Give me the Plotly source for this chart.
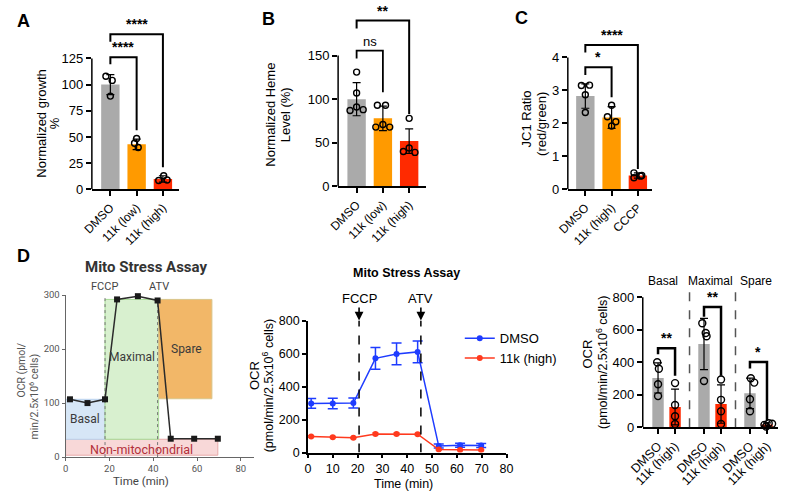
import plotly.graph_objects as go

W, H = 787, 500
FONT = "Liberation Sans, Arial, sans-serif"
SFONT = "Roboto, Liberation Sans, sans-serif"


def X(p):
    return p / W


def Y(p):
    return 1 - p / H


# ---------------- data ----------------
A_CATS = ["DMSO", "11k (low)", "11k (high)"]
A_MEAN = [100, 43, 10]
A_SD = [9.5, 5, 3]
A_PTS = [[108, 104, 89], [48.5, 44, 40], [8.5, 13, 9]]

B_CATS = ["DMSO", "11k (low)", "11k (high)"]
B_MEAN = [100, 78, 52]
B_SD = [19, 14, 14]
B_PTS = [[131, 107, 87, 91, 88], [93, 93, 68, 71, 68], [78, 40, 44, 39]]

C_CATS = ["DMSO", "11k (high)", "CCCP"]
C_MEAN = [2.83, 2.18, 0.42]
C_SD = [0.37, 0.33, 0.08]
C_PTS = [[3.15, 3.16, 2.87, 2.33], [2.55, 2.2, 2.05, 1.92], [0.5, 0.35, 0.42, 0.4]]

SCH_TIME = [2, 10, 18, 23.5, 33, 42, 48, 58.7, 69.5]
SCH_OCR = [107, 100, 107, 292, 298, 290, 34, 34, 34]
SCH_TICKS_X = [0, 20, 40, 60, 80]
SCH_TICKS_Y = [0, 100, 200, 300]

MS_TIME = [1.3, 10, 18.3, 27.2, 35.7, 44.2, 52.7, 61.3, 69.8]
MS_DMSO = [298, 297, 300, 571, 598, 610, 39, 44, 42]
MS_DMSO_ERR = [30, 32, 30, 66, 66, 66, 12, 12, 12]
MS_11K = [97, 93, 89, 113, 113, 111, 18, 16, 15]
MS_11K_ERR = [6, 5, 5, 6, 6, 6, 3, 3, 3]
MS_FCCP, MS_ATV = 20.6, 45.5

OCR_GROUPS = ["Basal", "Maximal", "Spare"]
OCR_CONDS = ["DMSO", "11k (high)"]
OCR_DMSO_MEAN = [304, 513, 209]
OCR_DMSO_SD = [93, 158, 94]
OCR_11K_MEAN = [125, 143, 17]
OCR_11K_SD = [110, 118, 10]
OCR_DMSO_PTS = [[400, 360, 265, 192], [640, 580, 560, 285], [302, 275, 173, 99]]
OCR_11K_PTS = [[272, 137, 68, 20], [294, 169, 99, 20], [25, 22, 15, 5]]

# ---------------- styling ----------------
GRAY, ORANGE, RED = "#AAAAAA", "#FF9A00", "#FF2A00"
C_BLUE, C_RED = "#1E3CFF", "#FF3A1E"

fig = go.Figure()


def bar_set(ax, xs, means, sds, colors, pts, offs, width, msize, name):
    fig.add_trace(go.Bar(
        x=xs, y=means, width=width, marker=dict(color=colors, line=dict(width=0)),
        error_y=dict(type="data", array=sds, color="black", thickness=1.2, width=4),
        xaxis="x" + ax, yaxis="y" + ax, showlegend=False, hoverinfo="skip", name=name))
    for xi, p, o in zip(xs, pts, offs):
        fig.add_trace(go.Scatter(
            x=[xi + oo for oo in o], y=p, mode="markers",
            marker=dict(symbol="circle-open", size=msize, color="black", line=dict(width=1.4)),
            xaxis="x" + ax, yaxis="y" + ax, showlegend=False, cliponaxis=False, hoverinfo="skip"))


def bracket(ax, x0, x1, ytop, yl, yr, label, lw=2, fs=14, bold=True, shift=0):
    fig.add_shape(type="path", path=f"M {x0},{yl} L {x0},{ytop} L {x1},{ytop} L {x1},{yr}",
                  xref="x" + ax, yref="y" + ax, line=dict(color="black", width=lw))
    txt = f"<b>{label}</b>" if bold else label
    fig.add_annotation(x=(x0 + x1) / 2, y=ytop, xref="x" + ax, yref="y" + ax, text=txt,
                       showarrow=False, yanchor="bottom", yshift=shift,
                       font=dict(size=fs, color="black", family=FONT))


def yline(ax, top, color="black", w=1.5):
    fig.add_shape(type="line", xref=f"x{ax} domain", x0=0, x1=0, yref="y" + ax, y0=0, y1=top,
                  line=dict(color=color, width=w))


def text(px, py, s, size=12, color="black", bold=False, angle=0, family=FONT):
    fig.add_annotation(x=X(px), y=Y(py), xref="paper", yref="paper",
                       text=f"<b>{s}</b>" if bold else s, showarrow=False, textangle=angle,
                       xanchor="center", yanchor="middle",
                       font=dict(size=size, color=color, family=family))


def xcat(d0, d1, rng, tv, tt, anchor, fs=12):
    return dict(domain=[X(d0), X(d1)], range=rng, tickmode="array", tickvals=tv, ticktext=tt,
                tickangle=-45, ticks="outside", ticklen=5, tickwidth=1.5, tickcolor="black",
                showline=True, linewidth=1.5, linecolor="black", showgrid=False, zeroline=False,
                tickfont=dict(size=fs, color="black", family=FONT), anchor=anchor, fixedrange=True)


def yval(pz, ptop, k, tv, anchor, fs=13, showline=False):
    return dict(domain=[Y(pz), Y(ptop)], range=[0, (pz - ptop) / k], tickmode="array", tickvals=tv,
                ticks="outside", ticklen=5, tickwidth=1.5, tickcolor="black",
                showline=showline, linewidth=1.5, linecolor="black", showgrid=False, zeroline=False,
                tickfont=dict(size=fs, color="black", family=FONT), anchor=anchor, fixedrange=True)


# ---------------- Panel A ----------------
xa = list(range(len(A_CATS)))
bar_set("", xa, A_MEAN, A_SD, [GRAY, ORANGE, RED], A_PTS,
        [[-0.17, 0.07, 0], [0, -0.08, 0.06], [-0.16, 0.03, 0.16]], 0.7, 6, "A")
yline("", 125)
bracket("", 0, 2, 148, 141, 21, "****")
bracket("", 0, 1, 126, 119.5, 56.5, "****")

# ---------------- Panel B ----------------
xb = list(range(len(B_CATS)))
bar_set("2", xb, B_MEAN, B_SD, [GRAY, ORANGE, RED], B_PTS,
        [[0, 0, -0.25, 0, 0.25], [-0.21, 0.1, -0.27, 0, 0.26], [0, -0.22, 0, 0.22]], 0.7, 6, "B")
yline("2", 150)
bracket("2", 0, 1, 155.6, 146.7, 107.8, "ns", lw=1.8, fs=13, bold=False)
bracket("2", 0, 2, 190, 181, 83, "**")

# ---------------- Panel C ----------------
xc = list(range(len(C_CATS)))
bar_set("3", xc, C_MEAN, C_SD, [GRAY, ORANGE, RED], C_PTS,
        [[-0.15, 0.16, 0, 0], [0, -0.16, 0.16, 0], [-0.15, -0.15, 0.15, 0.1]], 0.7, 6, "C")
yline("3", 4)
bracket("3", 0, 1, 3.706, 3.47, 2.79, "*")
bracket("3", 0, 2, 4.38, 4.15, 0.62, "****")

# ---------------- Panel D schematic ----------------
rects = [
    (0, 69.5, 3.5, 33, "#F8D8D8", "#E7A9A9"),
    (0, 18, 33, 107, "#D6E6F6", "#B9D3EE"),
    (18, 42.5, 33, 292, "#D8F0CF", "#A7DB95"),
    (42.5, 66.8, 108, 292, "#F2B768", "#D9C58A"),
]
for x0, x1, y0, y1, fc, lc in rects:
    fig.add_shape(type="rect", xref="x4", yref="y4", x0=x0, x1=x1, y0=y0, y1=y1,
                  fillcolor=fc, line=dict(color=lc, width=1), layer="below")
for xv in (18, 42):
    fig.add_shape(type="line", xref="x4", yref="y4", x0=xv, x1=xv, y0=0, y1=300,
                  line=dict(color="#777777", width=1, dash="dot"), layer="below")
fig.add_trace(go.Scatter(x=SCH_TIME, y=SCH_OCR, mode="lines+markers", xaxis="x4", yaxis="y4",
                         line=dict(color="#2B2B2B", width=1.5),
                         marker=dict(symbol="square", size=6, color="#1A1A1A"),
                         showlegend=False, hoverinfo="skip", cliponaxis=False))

# ---------------- Panel D middle ----------------
fig.add_trace(go.Scatter(x=MS_TIME, y=MS_DMSO, name="DMSO", mode="lines+markers",
                         xaxis="x5", yaxis="y5", line=dict(color=C_BLUE, width=1.5),
                         marker=dict(size=6, color=C_BLUE),
                         error_y=dict(type="data", array=MS_DMSO_ERR, color=C_BLUE, thickness=1.5, width=5),
                         hoverinfo="skip"))
fig.add_trace(go.Scatter(x=MS_TIME, y=MS_11K, name="11k (high)", mode="lines+markers",
                         xaxis="x5", yaxis="y5", line=dict(color=C_RED, width=1.5),
                         marker=dict(size=6, color=C_RED),
                         error_y=dict(type="data", array=MS_11K_ERR, color=C_RED, thickness=1.2, width=3),
                         hoverinfo="skip"))
for xv, lab in ((MS_FCCP, "FCCP"), (MS_ATV, "ATV")):
    fig.add_shape(type="line", xref="x5", yref="y5", x0=xv, x1=xv, y0=0, y1=800,
                  line=dict(color="black", width=1.5, dash="dash"))
    fig.add_annotation(x=xv, y=800, xref="x5", yref="y5", text=lab, showarrow=True,
                       ax=0, ay=-22, arrowhead=2, arrowsize=1.1, arrowwidth=1.6, arrowcolor="black",
                       font=dict(size=13, color="black", family=FONT))

# ---------------- Panel D right ----------------
ocr_x_dmso = [g * 2.7 for g in range(len(OCR_GROUPS))]
ocr_x_11k = [g * 2.7 + 1 for g in range(len(OCR_GROUPS))]
bar_set("6", ocr_x_dmso, OCR_DMSO_MEAN, OCR_DMSO_SD, GRAY, OCR_DMSO_PTS,
        [[-0.05, 0.05, 0, 0], [-0.1, 0.1, 0.15, 0], [0.05, 0.25, 0, 0]], 0.67, 7, "DMSO")
bar_set("6", ocr_x_11k, OCR_11K_MEAN, OCR_11K_SD, RED, OCR_11K_PTS,
        [[0, 0, 0, 0], [0, 0, 0, 0], [0.1, 0.3, -0.15, -0.05]], 0.67, 7, "11k")
yline("6", 800)
for g in range(1, len(OCR_GROUPS)):
    xv = (ocr_x_11k[g - 1] + ocr_x_dmso[g]) / 2
    fig.add_shape(type="line", xref="x6", yref="y6", x0=xv, x1=xv, y0=0, y1=856,
                  line=dict(color="#555555", width=1.5, dash="dash"))
bracket("6", ocr_x_dmso[0], ocr_x_11k[0], 487, 450, 318, "**", lw=2.5)
bracket("6", ocr_x_dmso[1], ocr_x_11k[1], 740, 680, 318, "**", lw=2.5)
bracket("6", ocr_x_dmso[2], ocr_x_11k[2], 402, 362, 40, "*", lw=2.5)
ocr_tickvals = sorted(ocr_x_dmso + ocr_x_11k)
ocr_ticktext = OCR_CONDS * len(OCR_GROUPS)

# ---------------- texts ----------------
text(10, 14, "A", 18, bold=True)
text(261, 12, "B", 18, bold=True)
text(521, 11, "C", 18, bold=True)
text(10, 257, "D", 18, bold=True)
text(28, 120, "Normalized growth", 13, angle=-90)
text(42, 120, "%", 13, angle=-90)
text(264, 111, "Normalized Heme", 13, angle=-90)
text(279, 111, "Level (%)", 13, angle=-90)
text(527, 115, "JC1 Ratio", 13, angle=-90)
text(542, 121, "(red/green)", 13, angle=-90)

text(136, 268, "Mito Stress Assay", 15, color="#333333", bold=True, family=SFONT)
text(93, 288, "FCCP", 11, color="#444444", family=SFONT)
text(149, 288, "ATV", 11, color="#444444", family=SFONT)
text(73, 425, "Basal", 12, color="#3A3A3A", family=SFONT)
text(121, 361, "Maximal", 12, color="#3A3A3A", family=SFONT)
text(177, 353, "Spare", 12, color="#3A3A3A", family=SFONT)
text(131, 456, "Non-mitochondrial", 12.5, color="#B3303A", family=SFONT)
text(8, 374, "OCR (pmol/", 10.5, color="#555555", angle=-90, family=SFONT)
text(20, 402, "min/2.5x10<sup>6</sup> cells)", 10.5, color="#555555", angle=-90, family=SFONT)
text(130, 489, "Time (min)", 11.5, color="#444444", family=SFONT)

text(403, 274, "Mito Stress Assay", 12.5, bold=True)
text(247, 380, "OCR", 13, angle=-90)
text(261, 391, "(pmol/min/2.5x10<sup>6</sup> cells)", 12.5, angle=-90)
text(400, 492, "Time (min)", 12.5)

text(667, 282, "Basal", 12)
text(716, 282, "Maximal", 12)
text(762, 282, "Spare", 12)
text(589, 358, "OCR", 13, angle=-90)
text(604, 366, "(pmol/min/2.5x10<sup>6</sup> cells)", 12.5, angle=-90)

# ---------------- layout ----------------
sch_ax = dict(showline=True, linewidth=1, linecolor="#666666", ticks="outside", ticklen=3,
              tickcolor="#666666", showgrid=False, zeroline=False, fixedrange=True,
              tickfont=dict(size=9.5, color="#555555", family=SFONT))
mid_common = dict(showline=True, linewidth=1.5, linecolor="black", ticks="outside", ticklen=4,
                  tickwidth=1.5, tickcolor="black", showgrid=False, zeroline=False, fixedrange=True,
                  tickfont=dict(size=12.5, color="black", family=FONT))

fig.update_layout(
    width=W, height=H, margin=dict(l=0, r=0, t=0, b=0),
    paper_bgcolor="white", plot_bgcolor="white", barmode="overlay",
    font=dict(family=FONT, color="black"),
    xaxis=xcat(80, 170, [-0.704, 2.63], xa, A_CATS, "y"),
    yaxis=yval(188, 10, 1.08, [0, 25, 50, 75, 100, 125], "x"),
    xaxis2=xcat(333, 423, [-0.704, 2.63], xb, B_CATS, "y2"),
    yaxis2=yval(185, 8, 0.9, [0, 50, 100, 150], "x2"),
    xaxis3=xcat(569, 655, [-0.667, 2.52], xc, C_CATS, "y3"),
    yaxis3=yval(188, 8, 34, [0, 1, 2, 3, 4], "x3"),
    xaxis4=dict(domain=[X(53), X(247)], range=[0, 86.2], tickvals=SCH_TICKS_X, anchor="y4", **sch_ax),
    yaxis4=dict(domain=[Y(464), Y(297)], range=[0, 300], tickvals=SCH_TICKS_Y, anchor="x4", **sch_ax),
    xaxis5=dict(domain=[X(302), X(506)], range=[0, 80], tickvals=list(range(0, 81, 10)), anchor="y5", **mid_common),
    yaxis5=dict(domain=[Y(459.3), Y(323.3)], range=[0, 800], tickvals=list(range(0, 801, 200)), anchor="x5", **mid_common),
    xaxis6=xcat(646, 785, [-0.897, 7.05], ocr_tickvals, ocr_ticktext, "y6", fs=12.5),
    yaxis6=yval(433.3, 288, 0.1675, list(range(0, 801, 200)), "x6", fs=13),
    legend=dict(x=X(458), y=Y(326), xanchor="left", yanchor="top", bgcolor="rgba(0,0,0,0)",
                font=dict(size=13, family=FONT, color="black"), tracegroupgap=0),
    showlegend=True,
)

fig.write_html("out.html")
